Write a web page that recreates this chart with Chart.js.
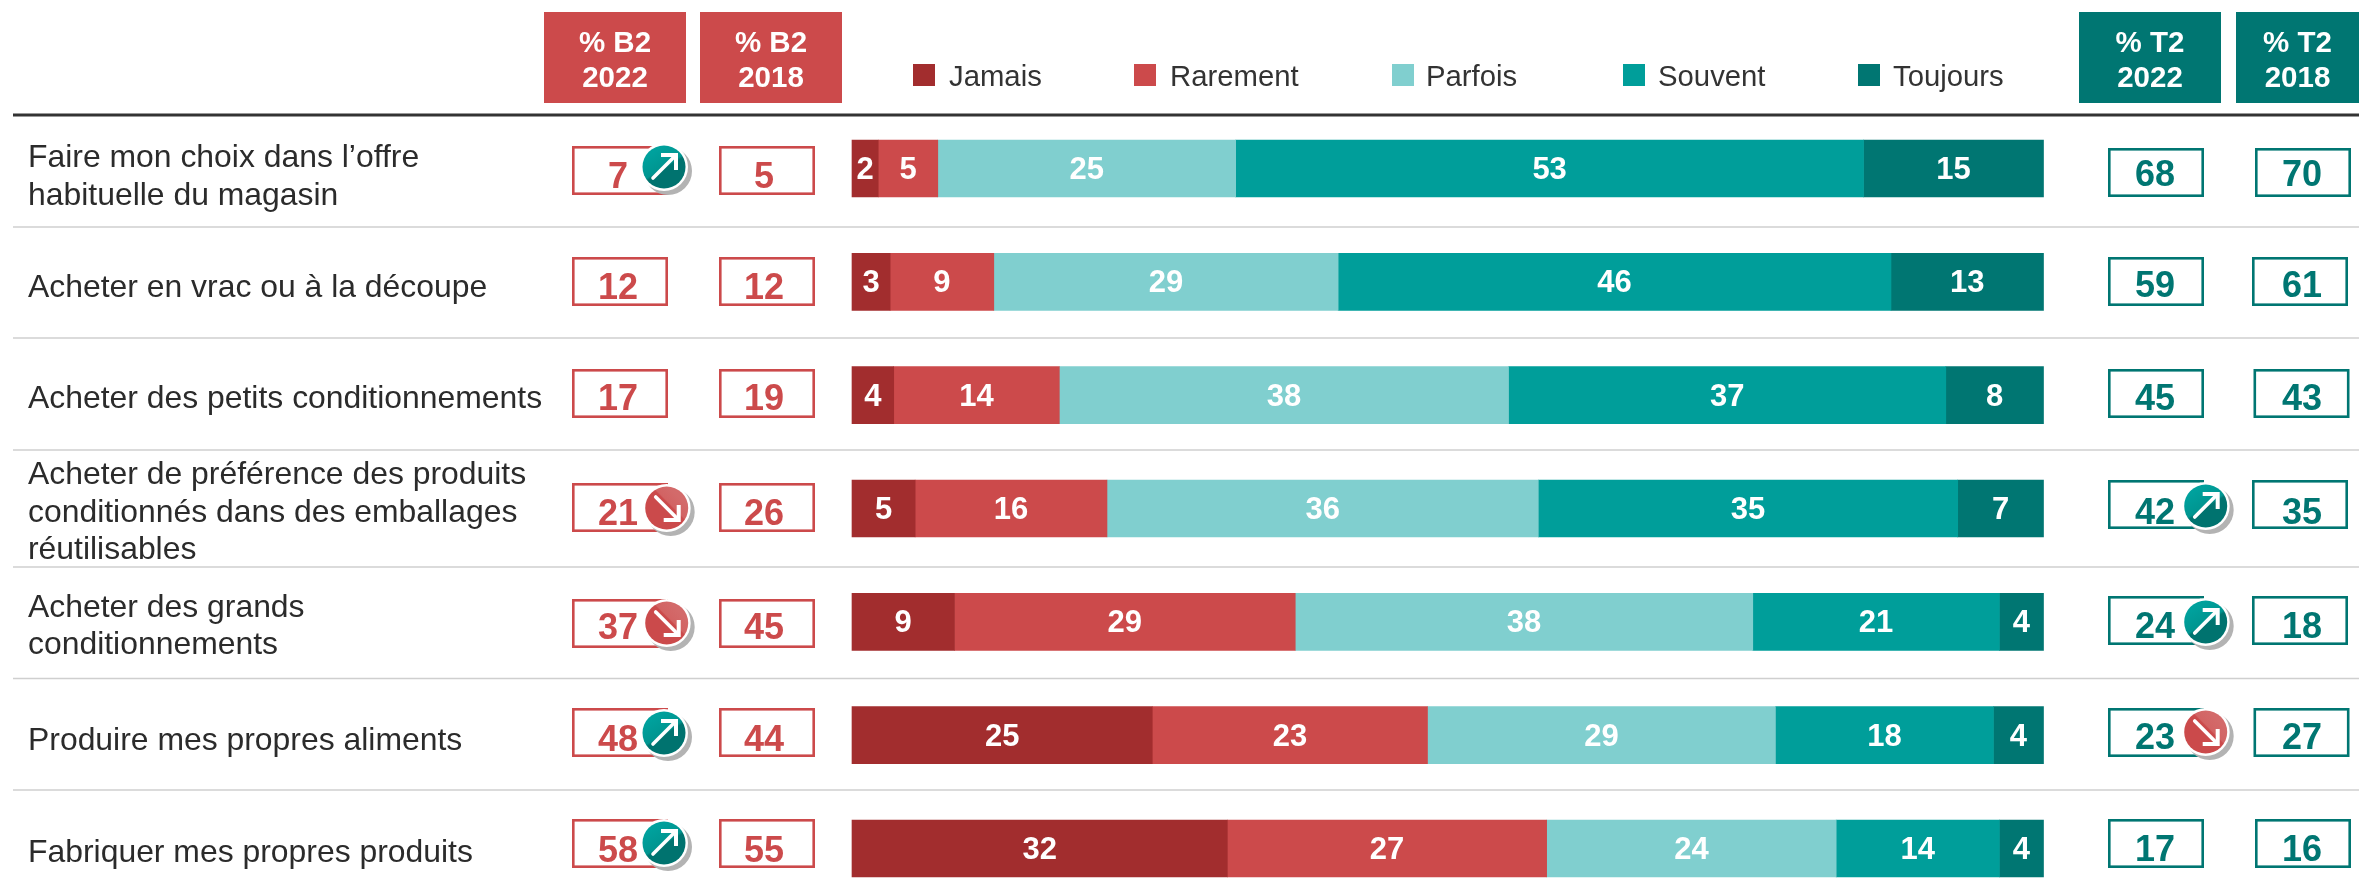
<!DOCTYPE html>
<html lang="fr">
<head>
<meta charset="utf-8">
<title>Pratiques d'achat</title>
<style>html,body{margin:0;padding:0;background:#fff;overflow:hidden}canvas{display:block}</style>
<script src="https://cdn.jsdelivr.net/npm/chart.js@4"></script>
</head>
<body>
<canvas id="c" width="2359" height="895"></canvas>
<script>
const categories = [
  ["Faire mon choix dans l’offre", "habituelle du magasin"],
  "Acheter en vrac ou à la découpe",
  "Acheter des petits conditionnements",
  ["Acheter de préférence des produits", "conditionnés dans des emballages", "réutilisables"],
  ["Acheter des grands", "conditionnements"],
  "Produire mes propres aliments",
  "Fabriquer mes propres produits"
];
const jamais   = [2.2, 3.2, 3.5, 5.3, 8.6, 25.2, 31.5];
const rarement = [5.0, 8.7, 13.9, 16.1, 28.6, 23.1, 26.8];
const parfois  = [25.0, 28.9, 37.7, 36.2, 38.4, 29.2, 24.3];
const souvent  = [52.7, 46.4, 36.7, 35.2, 20.7, 18.3, 13.7];
const toujours = [15.1, 12.8, 8.2, 7.2, 3.7, 4.2, 3.7];
const b2_2022 = [7, 12, 17, 21, 37, 48, 58];
const b2_2018 = [5, 12, 19, 26, 45, 44, 55];
const t2_2022 = [68, 59, 45, 42, 24, 23, 17];
const t2_2018 = [70, 61, 43, 35, 18, 27, 16];
const b2Trend = ["up", null, null, "down", "down", "up", "up"];
const t2Trend = [null, null, null, "up", "up", "down", null];
const headerB2 = ["% B2 2022", "% B2 2018"];
const headerT2 = ["% T2 2022", "% T2 2018"];

const C = {jamais:"#a22d2e", rarement:"#cc4a4b", parfois:"#80cfcf", souvent:"#009e9a", toujours:"#007672"};
const FONT = '"Liberation Sans", Arial, sans-serif';

/* Page layout, in pixels (positions only, no data) */
const L = {
  rules: [227, 338, 450, 567, 678.5, 790],
  b2Tops: [146, 257, 369, 483, 599, 708, 819],
  t2Tops: [148, 257, 369, 480, 596, 708, 819],
  b2TextY: [175, 286, 397, 512, 626, 738, 849],
  t2TextY: [172.5, 284, 397, 511, 625, 736, 848],
  t2018X: [2255, 2252, 2253.5, 2252, 2252, 2253.5, 2255],
  b2BadgeY: [167, 0, 0, 508, 623, 733, 843],
  t2BadgeY: [0, 0, 0, 506, 622, 732, 0],
  legendSq: [913, 1134, 1392, 1623, 1858],
  legendTx: [949, 1170, 1426, 1658, 1893],
  labelDy: [9, 6, 4, 4.5, 5, 6, 4.5]
};

function badge(ctx, x, y, dir) {
  const r = 21.5;
  ctx.save();
  ctx.beginPath(); ctx.arc(x + 4, y + 4, r + 2.5, 0, Math.PI * 2); ctx.fillStyle = "#b3b3b3"; ctx.fill();
  ctx.beginPath(); ctx.arc(x, y, r + 2.5, 0, Math.PI * 2); ctx.fillStyle = "#fff"; ctx.fill();
  ctx.beginPath(); ctx.arc(x, y, r, 0, Math.PI * 2);
  if (dir === "up") {
    const g = ctx.createLinearGradient(x - r * .5, y - r * .7, x + r * .35, y + r * .6);
    g.addColorStop(0, "#00a19d"); g.addColorStop(.55, "#009590"); g.addColorStop(.62, "#00736f"); g.addColorStop(1, "#00736f");
    ctx.fillStyle = g;
  } else {
    const g = ctx.createLinearGradient(x + r * .55, y - r * .55, x - r * .2, y + r * .2);
    g.addColorStop(0, "#d36a6a"); g.addColorStop(.5, "#d26363"); g.addColorStop(.56, "#cb4a4b"); g.addColorStop(1, "#cb4a4b");
    ctx.fillStyle = g;
  }
  ctx.fill();
  ctx.strokeStyle = "#fff"; ctx.lineWidth = 3.6; ctx.lineCap = "round"; ctx.lineJoin = "miter";
  const s = dir === "up" ? -1 : 1;
  ctx.beginPath(); ctx.moveTo(x - 11, y - 11 * s); ctx.lineTo(x + 11, y + 11 * s); ctx.stroke();
  ctx.lineCap = "butt"; ctx.lineWidth = 4;
  ctx.beginPath(); ctx.moveTo(x + 12, y - 3 * s); ctx.lineTo(x + 12, y + 12 * s); ctx.lineTo(x - 3, y + 12 * s); ctx.stroke();
  ctx.restore();
}

function box(ctx, x, y, color, value, textX, textY) {
  ctx.save();
  ctx.strokeStyle = color; ctx.lineWidth = 2.6;
  ctx.strokeRect(x + 1.3, y + 1.3, 93.4, 46.4);
  ctx.fillStyle = color; ctx.font = "bold 36px " + FONT;
  ctx.textAlign = "center"; ctx.textBaseline = "alphabetic";
  ctx.fillText(String(value), textX, textY + 13);
  ctx.restore();
}

function header(ctx, x0, x1, color, text) {
  ctx.save();
  ctx.fillStyle = color; ctx.fillRect(x0, 12, x1 - x0, 91);
  ctx.fillStyle = "#fff"; ctx.font = "bold 29.5px " + FONT;
  ctx.textAlign = "center"; ctx.textBaseline = "alphabetic";
  const i = text.lastIndexOf(" ");
  ctx.fillText(text.slice(0, i), (x0 + x1) / 2, 52);
  ctx.fillText(text.slice(i + 1), (x0 + x1) / 2, 86.5);
  ctx.restore();
}

const page = {
  id: "page",
  beforeDraw(chart) {
    chart.scales.y.getLabelItems().forEach((it, i) => {
      if (it.shifted) return;
      it.shifted = true;
      const t = it.options.translation;
      it.options.translation = [t[0], t[1] + L.labelDy[i]];
    });
  },
  beforeDatasetsDraw(chart) {
    const ctx = chart.ctx;
    ctx.save();
    ctx.fillStyle = "#333"; ctx.fillRect(13, 113.5, 2346, 3);
    ctx.fillStyle = "#cfcfcf";
    L.rules.forEach(y => ctx.fillRect(13, y - .75, 2346, 1.5));
    ctx.restore();
    header(ctx, 544, 686, C.rarement, headerB2[0]);
    header(ctx, 700, 842, C.rarement, headerB2[1]);
    header(ctx, 2079, 2221, C.toujours, headerT2[0]);
    header(ctx, 2236, 2359, C.toujours, headerT2[1]);
    ctx.save();
    ctx.font = "29.3px " + FONT; ctx.textBaseline = "alphabetic"; ctx.textAlign = "left";
    chart.data.datasets.forEach((d, i) => {
      ctx.fillStyle = d.backgroundColor; ctx.fillRect(L.legendSq[i], 64, 22, 22);
      ctx.fillStyle = "#333"; ctx.fillText(d.label, L.legendTx[i], 85.5);
    });
    ctx.restore();
  },
  afterDatasetsDraw(chart) {
    const ctx = chart.ctx;
    chart.data.datasets.forEach((d, i) => {
      chart.getDatasetMeta(i).data.forEach((el, j) => {
        const p = el.getCenterPoint();
        ctx.save();
        ctx.fillStyle = "#fff"; ctx.font = "bold 31px " + FONT;
        ctx.textAlign = "center"; ctx.textBaseline = "middle";
        ctx.fillText(String(Math.round(d.data[j])), p.x, p.y + 2);
        ctx.restore();
      });
    });
    categories.forEach((_, i) => {
      box(ctx, 572, L.b2Tops[i], C.rarement, b2_2022[i], 618, L.b2TextY[i]);
      box(ctx, 719, L.b2Tops[i], C.rarement, b2_2018[i], 764, L.b2TextY[i]);
      box(ctx, 2108, L.t2Tops[i], C.toujours, t2_2022[i], 2155, L.t2TextY[i]);
      box(ctx, L.t2018X[i], L.t2Tops[i], C.toujours, t2_2018[i], 2302, L.t2TextY[i]);
      if (b2Trend[i]) badge(ctx, b2Trend[i] === "up" ? 664 : 666.7, L.b2BadgeY[i], b2Trend[i]);
      if (t2Trend[i]) badge(ctx, 2205.7, L.t2BadgeY[i], t2Trend[i]);
    });
  }
};

const ds = (label, data, color) => ({label, data, backgroundColor: color, borderWidth: 0, barThickness: 57, clip: false});

new Chart(document.getElementById("c"), {
  type: "bar",
  data: {
    labels: categories,
    datasets: [
      ds("Jamais", jamais, C.jamais),
      ds("Rarement", rarement, C.rarement),
      ds("Parfois", parfois, C.parfois),
      ds("Souvent", souvent, C.souvent),
      ds("Toujours", toujours, C.toujours)
    ]
  },
  options: {
    indexAxis: "y",
    responsive: false,
    animation: false,
    layout: {padding: {left: 28, right: 315.5, top: 168.5, bottom: 46.5}},
    plugins: {legend: {display: false}, tooltip: {enabled: false}, title: {display: false}},
    scales: {
      x: {stacked: true, min: 0, max: 100, display: false},
      y: {
        stacked: true,
        offset: false,
        grid: {display: false, offset: false},
        border: {display: false},
        afterFit(s) { s.width = 824; },
        ticks: {
          crossAlign: "far",
          autoSkip: false,
          padding: 0,
          color: "#2b2b2b",
          font: {family: FONT, size: 31.9, lineHeight: 1.18}
        }
      }
    }
  },
  plugins: [page]
});
</script>
</body>
</html>
